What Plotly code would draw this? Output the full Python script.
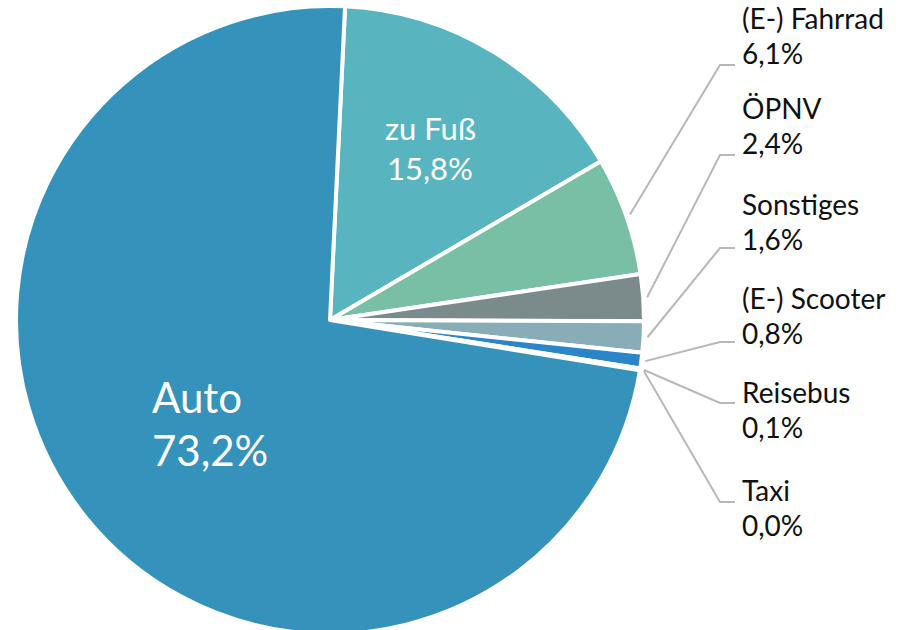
import math
import plotly.graph_objects as go

categories = ["zu Fuß", "(E-) Fahrrad", "ÖPNV", "Sonstiges", "(E-) Scooter", "Reisebus", "Taxi", "Auto"]
values = [15.8, 6.1, 2.4, 1.6, 0.8, 0.1, 0.0, 73.2]
value_labels = ["15,8%", "6,1%", "2,4%", "1,6%", "0,8%", "0,1%", "0,0%", "73,2%"]
colors = ["#58b5c0", "#78bfa6", "#7b8b8b", "#88adb6", "#2b86c9", "#c8d6da", "#c8d6da", "#3593bb"]

W, H = 899, 640
CX, CY, R = 330, 320, 314
ROT = 2.75

fig = go.Figure(go.Pie(
    labels=categories, values=values, sort=False, direction="clockwise",
    rotation=ROT, marker=dict(colors=colors, line=dict(color="white", width=4)),
    textinfo="none", hoverinfo="label+percent", showlegend=False,
    domain=dict(x=[(CX - R) / W, (CX + R) / W],
                y=[(H - CY - R) / H, (H - CY + R) / H]),
))

FONT = "Lato, 'Open Sans', sans-serif"
ann = []
shapes = []

def px(x, y):
    return x / W, 1 - y / H

# inside labels
for name, val, (x, y1, y2, size) in [
    (categories[7], value_labels[7], (150, 397, 450, 42)),
    (categories[0], value_labels[0], (430, 128, 168, 31)),
]:
    for txt, yy in [(name, y1), (val, y2)]:
        xa = "left" if name == "Auto" else "center"
        ax, ay = px(x, yy)
        ann.append(dict(text=txt, x=ax, y=ay, xref="paper", yref="paper", xanchor=xa,
                        yanchor="middle", showarrow=False,
                        font=dict(family=FONT, size=size, color="white")))

# outside labels with leader lines
label_y = [18, 108, 204, 298, 392, 490]   # y of first line per outside label
elbow_y = [65, 155, 248, 342, 403, 502]
total = sum(values)
cum = 0
mids = []
for v in values:
    mids.append(ROT + (cum + v / 2) / total * 360)
    cum += v

for i in range(1, 7):
    ly = label_y[i - 1]
    for txt, yy in [(categories[i], ly), (value_labels[i], ly + 35)]:
        ax, ay = px(740, yy)
        ann.append(dict(text=txt, x=ax, y=ay, xref="paper", yref="paper", xanchor="left",
                        yanchor="middle", showarrow=False,
                        font=dict(family=FONT, size=28, color="#111111")))
    th = math.radians(mids[i])
    sx = CX + (R + 4) * math.sin(th)
    sy = CY - (R + 4) * math.cos(th)
    ey = elbow_y[i - 1]
    p0 = px(sx, sy); p1 = px(720, ey); p2 = px(735, ey)
    shapes.append(dict(type="path", xref="paper", yref="paper",
                       path=f"M {p0[0]},{p0[1]} L {p1[0]},{p1[1]} L {p2[0]},{p2[1]}",
                       line=dict(color="#b8b8b8", width=2)))

fig.update_layout(width=W, height=H, margin=dict(l=0, r=0, t=0, b=0),
                  paper_bgcolor="white", plot_bgcolor="white",
                  annotations=ann, shapes=shapes)
fig.write_html("out.html", config={"displayModeBar": False},
               post_script="document.body.style.margin='0';document.body.style.overflow='hidden';")
